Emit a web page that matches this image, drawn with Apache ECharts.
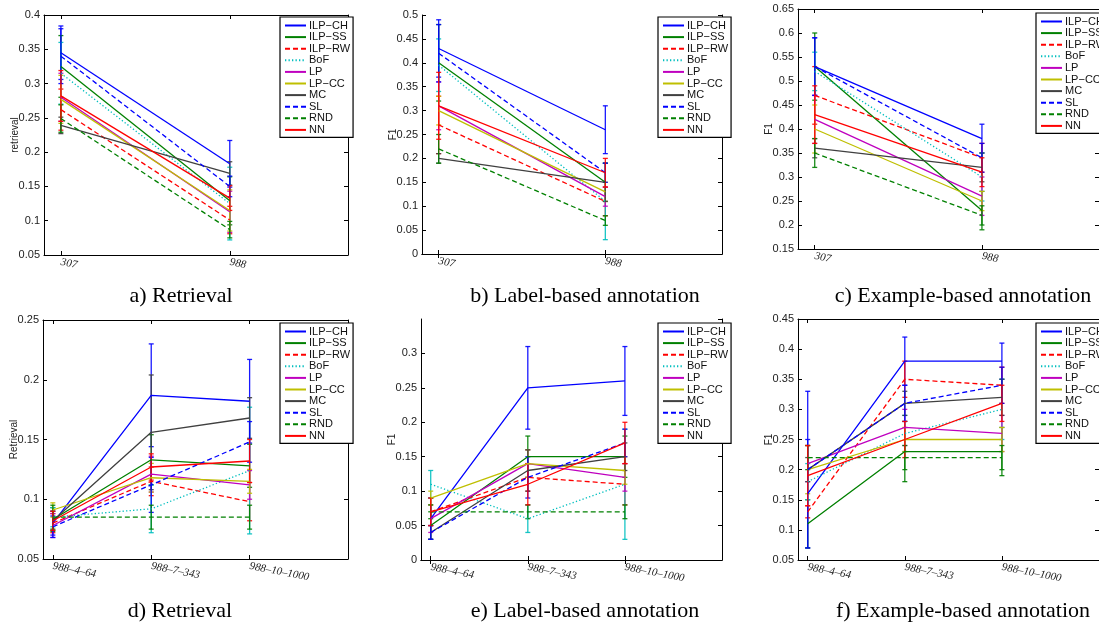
<!DOCTYPE html>
<html>
<head>
<meta charset="utf-8">
<script src="https://cdn.jsdelivr.net/npm/echarts@6/dist/echarts.min.js"></script>
<style>
html, body { margin: 0; padding: 0; background: #fff; }
#main { width: 1099px; height: 627px; }
</style>
</head>
<body>
<div id="main"></div>
<script>
// methods shown in every legend
let methods = ['ILP−CH', 'ILP−SS', 'ILP−RW', 'BoF', 'LP', 'LP−CC', 'MC', 'SL', 'RND', 'NN'];
let colors = ['#0000ff', '#008000', '#ff0000', '#00bfbf', '#bf00bf', '#bfbf00', '#404040', '#0000ff', '#008000', '#ff0000'];
let dashes = ['solid', 'solid', [5, 3], [1.3, 2.2], 'solid', 'solid', 'solid', [5, 3], [5, 3], 'solid'];

let topCats = ['307', '988'];
let bottomCats = ['988–4–64', '988–7–343', '988–10–1000'];

// a) Retrieval  (one row per method, one value per category)
let aMean = [[0.345, 0.183], [0.325, 0.129], [0.262, 0.101], [0.315, 0.125], [0.280, 0.113],
    [0.277, 0.115], [0.239, 0.169], [0.340, 0.150], [0.249, 0.087], [0.282, 0.133]];
let aErr = [[0.039, 0.034], [0.045, 0.035], [0.030, 0.020], [0.045, 0.053], [0.035, 0.030],
    [0.035, 0.030], [0.012, 0.017], [0.040, 0.015], [0.020, 0.012], [0.037, 0.018]];

// b) Label-based annotation
let bMean = [[0.43, 0.26], [0.40, 0.15], [0.27, 0.11], [0.395, 0.11], [0.31, 0.12],
    [0.30, 0.13], [0.20, 0.15], [0.42, 0.17], [0.22, 0.07], [0.31, 0.17]];
let bErr = [[0.06, 0.05], [0.08, 0.04], [0.06, 0.03], [0.055, 0.08], [0.05, 0.02],
    [0.03, 0.02], [0.01, 0.04], [0.06, 0.02], [0.03, 0.01], [0.07, 0.03]];

// c) Example-based annotation
let cMean = [[0.53, 0.38], [0.53, 0.23], [0.47, 0.34], [0.52, 0.30], [0.42, 0.26],
    [0.40, 0.25], [0.36, 0.32], [0.53, 0.34], [0.35, 0.22], [0.43, 0.31]];
let cErr = [[0.06, 0.03], [0.07, 0.04], [0.06, 0.03], [0.04, 0.05], [0.05, 0.04],
    [0.05, 0.02], [0.02, 0.03], [0.06, 0.03], [0.03, 0.02], [0.06, 0.03]];

// d) Retrieval
let dMean = [[0.080, 0.187, 0.182], [0.083, 0.133, 0.128], [0.080, 0.115, 0.098], [0.085, 0.092, 0.124],
    [0.078, 0.121, 0.112], [0.091, 0.118, 0.115], [0.082, 0.156, 0.168], [0.077, 0.112, 0.148],
    [0.085, 0.085, 0.085], [0.082, 0.127, 0.132]];
let dErr = [[0.010, 0.043, 0.035], [0.010, 0.021, 0.018], [0.008, 0.012, 0.016], [0.008, 0.020, 0.053],
    [0.010, 0.015, 0.012], [0.006, 0.012, 0.010], [0.008, 0.048, 0.017], [0.009, 0.023, 0.017],
    [0.010, 0.010, 0.010], [0.008, 0.011, 0.018]];

// e) Label-based annotation
let eMean = [[0.06, 0.25, 0.26], [0.05, 0.15, 0.15], [0.07, 0.12, 0.11], [0.11, 0.06, 0.11],
    [0.06, 0.14, 0.12], [0.09, 0.14, 0.13], [0.04, 0.13, 0.15], [0.04, 0.12, 0.17],
    [0.07, 0.07, 0.07], [0.07, 0.11, 0.17]];
let eErr = [[0.03, 0.06, 0.05], [0.02, 0.03, 0.03], [0.02, 0.02, 0.03], [0.02, 0.02, 0.08],
    [0.02, 0.02, 0.02], [0.01, 0.02, 0.02], [0.01, 0.03, 0.02], [0.01, 0.03, 0.02],
    [0.01, 0.01, 0.01], [0.02, 0.03, 0.03]];

// f) Example-based annotation
let fMean = [[0.16, 0.38, 0.38], [0.11, 0.23, 0.23], [0.13, 0.35, 0.34], [0.18, 0.26, 0.30],
    [0.21, 0.27, 0.26], [0.20, 0.25, 0.25], [0.20, 0.31, 0.32], [0.20, 0.31, 0.34],
    [0.22, 0.22, 0.22], [0.19, 0.25, 0.31]];
let fErr = [[0.09, 0.04, 0.03], [0.04, 0.05, 0.04], [0.01, 0.03, 0.03], [0.03, 0.03, 0.05],
    [0.03, 0.03, 0.03], [0.04, 0.02, 0.02], [0.02, 0.02, 0.03], [0.13, 0.03, 0.03],
    [0.02, 0.02, 0.02], [0.05, 0.03, 0.03]];

let panels = [
    {mean: aMean, err: aErr, cats: topCats, grid: [44, 15, 304, 240], x: [0.9, 2.7], y: [0.05, 0.4], yName: 'retrieval', legend: [280, 17], caption: 'a) Retrieval', cap: [181, 285]},
    {mean: bMean, err: bErr, cats: topCats, grid: [422, 15, 300, 239], x: [0.9, 2.7], y: [0, 0.5], yName: 'F1', legend: [658, 17], caption: 'b) Label-based annotation', cap: [585, 285]},
    {mean: cMean, err: cErr, cats: topCats, grid: [798, 9, 304, 240], x: [0.9, 2.7], y: [0.15, 0.65], yName: 'F1', legend: [1036, 13], caption: 'c) Example-based annotation', cap: [963, 285]},
    {mean: dMean, err: dErr, cats: bottomCats, grid: [43, 320, 305, 239], x: [0.9, 4], y: [0.05, 0.25], yName: 'Retrieval', legend: [280, 323], caption: 'd) Retrieval', cap: [180, 600]},
    {mean: eMean, err: eErr, cats: bottomCats, grid: [421, 319, 301, 241], x: [0.9, 4], y: [0, 0.35], yName: 'F1', legend: [658, 323], caption: 'e) Label-based annotation', cap: [585, 600], hideMax: true},
    {mean: fMean, err: fErr, cats: bottomCats, grid: [798, 319, 304, 241], x: [0.9, 4], y: [0.05, 0.45], yName: 'F1', legend: [1036, 323], caption: 'f) Example-based annotation', cap: [963, 600]}
];

let sansFont = 'Liberation Sans';

function errorBar(params, api) {
    let x = api.value(0);
    let lo = api.coord([x, api.value(1)]);
    let hi = api.coord([x, api.value(2)]);
    let c = api.visual('color');
    let w = 2.5;
    let st = {stroke: c, lineWidth: 1.3, opacity: 0.9};
    return {
        type: 'group',
        children: [
            {type: 'line', shape: {x1: lo[0], y1: lo[1], x2: hi[0], y2: hi[1]}, style: st},
            {type: 'line', shape: {x1: lo[0] - w, y1: lo[1], x2: lo[0] + w, y2: lo[1]}, style: st},
            {type: 'line', shape: {x1: hi[0] - w, y1: hi[1], x2: hi[0] + w, y2: hi[1]}, style: st}
        ]
    };
}

let grids = [], xAxes = [], yAxes = [], series = [], legends = [], graphics = [];

panels.forEach(function (p, gi) {
    let ticks = p.cats.map(function (c, j) { return j + 1; });
    grids.push({left: p.grid[0], top: p.grid[1], width: p.grid[2], height: p.grid[3], containLabel: false});
    xAxes.push({
        type: 'value', gridIndex: gi, position: 'bottom', min: p.x[0], max: p.x[1],
        axisLine: {show: true, lineStyle: {color: '#000', width: 1}},
        axisTick: {show: true, inside: true, length: 4, customValues: ticks, lineStyle: {color: '#000'}},
        axisLabel: {
            show: true, customValues: ticks, rotate: -11, margin: 7,
            fontFamily: 'Liberation Serif', fontStyle: 'italic', fontSize: 11, color: '#222',
            formatter: function (v) { return p.cats[Math.round(v) - 1]; }
        },
        splitLine: {show: false}
    });
    xAxes.push({
        type: 'value', gridIndex: gi, position: 'top', min: p.x[0], max: p.x[1],
        axisLine: {show: true, lineStyle: {color: '#000', width: 1}},
        axisTick: {show: true, inside: true, length: 4, customValues: ticks, lineStyle: {color: '#000'}},
        axisLabel: {show: false},
        splitLine: {show: false}
    });
    yAxes.push({
        type: 'value', gridIndex: gi, position: 'left', min: p.y[0], max: p.y[1], interval: 0.05,
        name: p.yName, nameLocation: 'middle', nameGap: 24, nameMoveOverlap: false,
        nameTextStyle: {fontFamily: sansFont, fontSize: 10, color: '#222'},
        axisLine: {show: true, lineStyle: {color: '#000', width: 1}},
        axisTick: {show: true, inside: true, length: 4, lineStyle: {color: '#000'}},
        axisLabel: {margin: 4, fontFamily: sansFont, fontSize: 11, color: '#222', showMaxLabel: !p.hideMax},
        splitLine: {show: false}
    });
    yAxes.push({
        type: 'value', gridIndex: gi, position: 'right', min: p.y[0], max: p.y[1], interval: 0.05,
        axisLine: {show: true, lineStyle: {color: '#000', width: 1}},
        axisTick: {show: true, inside: true, length: 4, lineStyle: {color: '#000'}},
        axisLabel: {show: false},
        splitLine: {show: false}
    });

    methods.forEach(function (m, k) {
        series.push({
            type: 'line', name: m, xAxisIndex: 2 * gi, yAxisIndex: 2 * gi,
            data: p.mean[k].map(function (v, j) { return [j + 1, v]; }),
            symbol: 'none', animation: false, z: 3,
            lineStyle: {color: colors[k], width: 1.3, type: dashes[k]},
            itemStyle: {color: colors[k]}
        });
        series.push({
            type: 'custom', name: 'err' + gi + '_' + k, xAxisIndex: 2 * gi, yAxisIndex: 2 * gi,
            data: p.mean[k].map(function (v, j) { return [j + 1, v - p.err[k][j], v + p.err[k][j]]; }),
            renderItem: errorBar, encode: {x: 0, y: [1, 2]},
            itemStyle: {color: colors[k]}, animation: false, silent: true, z: 2
        });
    });

    legends.push({
        data: methods, left: p.legend[0], top: p.legend[1], orient: 'vertical',
        itemWidth: 21, itemHeight: 8, itemGap: 0.6, padding: [3, 3, 2, 4],
        itemStyle: {opacity: 0},
        backgroundColor: '#fff', borderColor: '#000', borderWidth: 1.2, borderRadius: 0,
        selectedMode: false,
        textStyle: {fontFamily: sansFont, fontSize: 11, lineHeight: 11, color: '#111', padding: [0, 0, 0, -2]}
    });

    graphics.push({
        type: 'text', x: p.cap[0], y: p.cap[1],
        style: {text: p.caption, font: '22px "Liberation Serif"', fill: '#000', textAlign: 'center', textVerticalAlign: 'top'}
    });
});

let chart = echarts.init(document.getElementById('main'));
chart.setOption({
    backgroundColor: '#fff',
    animation: false,
    grid: grids,
    xAxis: xAxes,
    yAxis: yAxes,
    legend: legends,
    series: series,
    graphic: graphics
});
</script>
</body>
</html>
